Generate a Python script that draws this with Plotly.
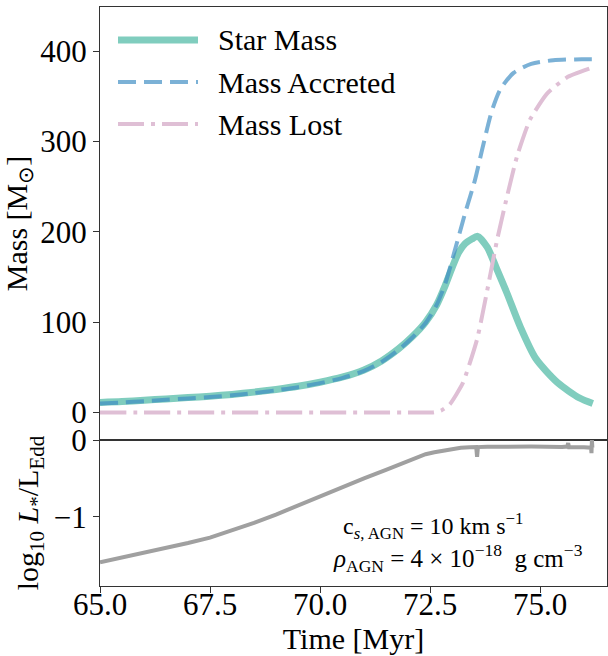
import plotly.graph_objects as go
from plotly.subplots import make_subplots

# ---- data ----
time_star = [65.0, 65.5, 66.0, 66.5, 67.0, 67.5, 68.0, 68.5, 69.0, 69.5, 70.0, 70.5, 71.0, 71.4,
             71.8, 72.1, 72.4, 72.65, 72.85, 73.0, 73.15, 73.3, 73.45, 73.58, 73.8, 74.0, 74.25,
             74.55, 74.9, 75.4, 75.9, 76.2]
star_mass = [11, 12, 13.5, 15, 16.5, 18, 20, 22.5, 25.5, 29, 33.5, 39, 47, 57,
             71, 84, 100, 119, 141, 160, 177, 187, 192, 195, 183, 161, 132,
             95, 60, 33, 16, 10]

time_acc = [65.0, 65.5, 66.0, 66.5, 67.0, 67.5, 68.0, 68.5, 69.0, 69.5, 70.0, 70.5, 71.0, 71.4,
            71.8, 72.1, 72.4, 72.65, 72.85, 73.05, 73.3, 73.52, 73.68, 73.9, 74.1, 74.4, 74.8,
            75.3, 75.8, 76.2]
mass_accreted = [10, 11, 12.5, 14, 15.5, 17, 19, 21.5, 24.5, 28, 32.5, 38, 46, 56,
                 70, 83, 99, 119, 143, 177, 221, 257, 290, 333, 358, 376, 386,
                 390, 391, 391]

time_lost = [65.0, 66.0, 67.0, 68.0, 69.0, 70.0, 71.0, 72.0, 72.55, 72.75, 72.95, 73.25, 73.57,
             73.8, 74.02, 74.25, 74.48, 74.77, 75.16, 75.61, 76.14, 76.2]
mass_lost = [0, 0, 0, 0, 0, 0, 0, 0, 0, 2, 9, 33, 81,
             135, 190, 239, 284, 324, 353, 371, 381, 382]

time_lum = [65.0, 65.5, 66.0, 66.5, 67.0, 67.5, 68.0, 68.5, 69.0, 69.5, 70.0, 70.5, 71.0, 71.5,
            72.0, 72.2, 72.4, 72.6, 72.8, 73.0, 73.2, 73.4, 73.55, 73.57, 73.59, 73.8, 74.2,
            74.8, 75.5, 75.62, 75.64, 75.66, 76.0, 76.16, 76.17, 76.18, 76.19, 76.2]
log_lum = [-1.59, -1.53, -1.47, -1.40, -1.34, -1.27, -1.18, -1.08, -0.97, -0.85, -0.73, -0.61,
           -0.50, -0.39, -0.28, -0.225, -0.185, -0.16, -0.14, -0.115, -0.10, -0.095, -0.092,
           -0.22, -0.092, -0.088, -0.082, -0.085, -0.09, -0.085, -0.04, -0.095, -0.095, -0.1,
           -0.17, 0.0, -0.1, -0.105]

legend_names = ["Star Mass", "Mass Accreted", "Mass Lost"]
mass_ticks = [0, 100, 200, 300, 400]
lum_ticks = [0, -1]
time_ticks = [65.0, 67.5, 70.0, 72.5, 75.0]

# ---- styles ----
FONT = "Liberation Serif"
C_STAR = "#80cdbe"
C_ACC = "rgba(60,140,195,0.68)"
C_LOST = "#dfbfd5"
C_LUM = "#a0a0a0"
AX = "#333333"
DASH_ACC = "18px,8px"
DASH_LOST = "26px,7px,4px,7px"
NB = "\u00a0"

fig = make_subplots(rows=2, cols=1, shared_xaxes=True, vertical_spacing=0)

fig.add_trace(go.Scatter(x=time_star, y=star_mass, mode="lines", name=legend_names[0],
                         line=dict(color=C_STAR, width=7, shape="spline", smoothing=0.7)),
              row=1, col=1)
fig.add_trace(go.Scatter(x=time_acc, y=mass_accreted, mode="lines", name=legend_names[1],
                         line=dict(color=C_ACC, width=4, dash=DASH_ACC, shape="spline", smoothing=0.7)),
              row=1, col=1)
fig.add_trace(go.Scatter(x=time_lost, y=mass_lost, mode="lines", name=legend_names[2],
                         line=dict(color=C_LOST, width=4, dash=DASH_LOST, shape="spline", smoothing=0.5)),
              row=1, col=1)
fig.add_trace(go.Scatter(x=time_lum, y=log_lum, mode="lines", name="luminosity",
                         line=dict(color=C_LUM, width=4)),
              row=2, col=1)

# ---- manual legend (line samples + real text) ----
PL, PR, PT, PB = 100, 607, 7, 586
W, H = PR - PL, PB - PT


def px(xp):
    return (xp - PL) / W


def py(yp):
    return 1 - (yp - PT) / H


leg_styles = [(C_STAR, 7, "solid", 40), (C_ACC, 4, DASH_ACC, 82), (C_LOST, 4, DASH_LOST, 124)]
for name, (col, w, dash, yy) in zip(legend_names, leg_styles):
    fig.add_shape(type="line", xref="paper", yref="paper", x0=px(118), x1=px(198),
                  y0=py(yy), y1=py(yy), line=dict(color=col, width=w, dash=dash))
    fig.add_annotation(xref="paper", yref="paper", x=px(216), y=py(yy), text=name,
                       showarrow=False, xanchor="left", yanchor="middle",
                       font=dict(family=FONT, size=30, color="black"))

fig.add_annotation(xref="paper", yref="paper", x=px(341), y=py(526),
                   text=f"c<sub><i>s</i>, AGN</sub>{NB}={NB}10{NB}km s<sup>−1</sup>",
                   showarrow=False, xanchor="left", yanchor="middle",
                   font=dict(family=FONT, size=24, color="black"))
fig.add_annotation(xref="paper", yref="paper", x=px(331), y=py(558),
                   text=(f"<i>ρ</i><sub>AGN</sub>{NB}={NB}4{NB}×{NB}10<sup>−18</sup>"
                         f"{NB}{NB}g cm<sup>−3</sup>"),
                   showarrow=False, xanchor="left", yanchor="middle",
                   font=dict(family=FONT, size=25, color="black"))

split = (PB - 440) / H
common = dict(showline=True, linecolor=AX, linewidth=1.3, mirror=True, showgrid=False,
              zeroline=False, ticks="outside", ticklen=6, tickwidth=1.3, tickcolor=AX,
              automargin=False,
              tickfont=dict(family=FONT, size=31, color="black"))

fig.update_xaxes(range=[65, 65 + W / 44.0], tickvals=time_ticks,
                 ticktext=[f"{v:.1f}" for v in time_ticks], ticklabelstandoff=-15, **common)
fig.update_xaxes(showticklabels=False, ticks="", row=1, col=1)
fig.update_xaxes(title=dict(text="Time [Myr]", font=dict(family=FONT, size=30, color="black"),
                            standoff=5), row=2, col=1)
fig.update_yaxes(range=[-30.5, 449], tickvals=mass_ticks, domain=[split, 1],
                 title=dict(text="Mass [M<sub>⊙</sub>]", font=dict(family=FONT, size=30, color="black"),
                            standoff=6), row=1, col=1, **common)
fig.update_yaxes(range=[-1.9, 0.0], tickvals=lum_ticks, ticktext=["0", "−1"], domain=[0, split],
                 title=dict(text="log<sub>10</sub> <i>L</i><sub>*</sub>/L<sub>Edd</sub>",
                            font=dict(family=FONT, size=30, color="black"), standoff=6),
                 row=2, col=1, **common)

fig.update_layout(width=608, height=656, showlegend=False,
                  margin=dict(l=PL, r=608 - PR, t=PT, b=656 - PB),
                  paper_bgcolor="white", plot_bgcolor="white",
                  font=dict(family=FONT, color="black"))

fig.write_html("out.html", config={"displayModeBar": False},
               post_script="document.body.style.margin='0';document.body.style.overflow='hidden';")
